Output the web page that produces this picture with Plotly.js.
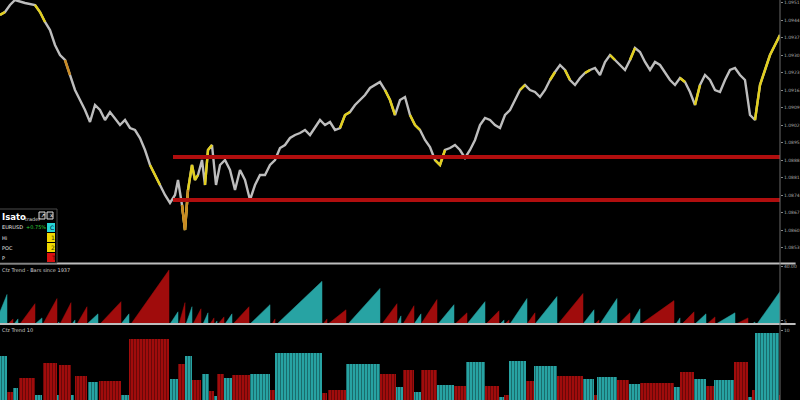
<!DOCTYPE html>
<html><head><meta charset="utf-8">
<script src="https://cdn.plot.ly/plotly-3.0.1.min.js"></script>
<style>html,body{margin:0;padding:0;background:#000;}#chart{width:800px;height:400px;}</style>
</head><body><div id="chart"></div>
<script>
// ---- price panel data ----
const barX = [0,5,10,15,25,35,40,45,50,55,60,65,70,75,80,85,90,95,100,105,110,115,120,125,130,135,140,145,150,155,160,165,170,175,178,182,185,188,192,195,198,202,205,208,212,216,220,225,230,235,240,245,250,255,260,265,270,275,280,285,290,295,300,305,310,315,320,325,330,335,340,345,350,355,360,365,370,375,380,385,390,395,400,405,410,415,420,425,430,435,440,445,450,455,460,465,470,475,480,485,490,495,500,505,510,515,520,525,530,535,540,545,550,555,560,565,570,575,580,585,590,595,600,605,610,615,620,625,630,635,640,645,650,655,660,665,670,675,680,685,690,695,700,705,710,715,720,725,730,735,740,745,750,755,760,765,770,775,780];
const closePrice = [1.0946,1.09472,1.0950,1.0952,1.09508,1.0950,1.09472,1.09432,1.0940,1.0934,1.0930,1.0928,1.0922,1.0916,1.0912,1.0908,1.09032,1.0910,1.0908,1.0904,1.09072,1.09048,1.0902,1.0904,1.09008,1.0900,1.08968,1.0892,1.0886,1.0882,1.0878,1.0874,1.08708,1.0874,1.0880,1.0870,1.0860,1.0876,1.0886,1.0880,1.0882,1.0888,1.0878,1.0892,1.0894,1.0878,1.0886,1.0888,1.0884,1.0876,1.0884,1.0880,1.0872,1.0878,1.0882,1.0882,1.0886,1.0888,1.08928,1.0894,1.08968,1.0898,1.08988,1.0900,1.0898,1.09008,1.0904,1.0902,1.09032,1.0900,1.09008,1.0906,1.09072,1.0910,1.0912,1.0914,1.09168,1.0918,1.09192,1.0916,1.0912,1.0906,1.0912,1.09132,1.0906,1.0902,1.0900,1.0896,1.08932,1.0888,1.0886,1.0892,1.08928,1.0894,1.0892,1.08888,1.0892,1.0896,1.0902,1.09048,1.0904,1.0902,1.09008,1.0906,1.0908,1.0912,1.0916,1.0918,1.0916,1.09152,1.09132,1.0916,1.0920,1.09232,1.0926,1.0924,1.0920,1.0918,1.09208,1.09228,1.0924,1.09248,1.0922,1.09272,1.0930,1.0928,1.0926,1.0924,1.0928,1.09328,1.09312,1.09272,1.0924,1.09272,1.0926,1.09232,1.0920,1.0918,1.09208,1.09192,1.09152,1.0910,1.0918,1.0922,1.0920,1.0916,1.09152,1.0920,1.0924,1.09248,1.0922,1.0920,1.0906,1.0904,1.0918,1.0924,1.0930,1.0934,1.0938];
const yellowStart = [0,35,150,180,205,340,385,410,435,520,550,565,585,610,630,680,695,755];
const yellowEnd   = [5,45,160,200,215,350,395,420,445,525,555,570,590,615,635,685,700,780];
const orangeStart = [65,182];
const orangeEnd   = [70,188];
const levelPrices = [1.08892, 1.0872];
const levelFrom = 173;
const priceTicks = [1.0951,1.0944,1.0937,1.0930,1.0923,1.0916,1.0909,1.0902,1.0895,1.0888,1.0881,1.0874,1.0867,1.0860,1.0853];

// ---- trend bars (ramps) ----
const trendStart = [-5,8,14,20,35,43,57,60,72,77,87,100,121,131,170,179,186,193,203,210,215,218,225,233,250,272,277,323,328,348,382,397,403,414,421,438,455,467,486,500,505,510,527,535,558,583,595,600,618,631,641,676,682,695,707,716,736,752,757];
const trendEnd   = [7,13,18,35,42,57,59,71,75,87,98,121,129,169,178,185,192,201,208,214,217,224,232,249,270,275,322,327,346,380,397,401,414,421,437,454,467,485,499,504,509,527,535,557,583,594,599,617,630,640,674,680,694,706,715,735,748,755,780];
const trendPeak  = [29,5,5,20,6,25,2,21,4,17,10,22,10,53,12,21,17,15,11,6,3,7,10,17,19,5,42,5,14,35,20,8,18,10,24,19,11,22,13,4,4,25,11,27,30,14,4,25,11,15,23,6,12,10,7,11,6,2,32];
const trendDir   = ['u','d','u','d','u','d','u','d','u','d','u','d','u','d','u','d','u','d','u','d','u','d','u','d','u','d','u','d','d','u','d','u','d','u','d','u','d','u','d','u','d','u','d','u','d','u','d','u','d','u','d','u','d','u','d','u','d','u','u'];

// ---- trend blocks ----
const blockStart  = [-3,7,13,19,35,43,57,59,71,75,88,99,121,129,170,178,185,192,202,209,214,217,224,232,250,270,275,322,328,346,380,396,403,414,421,437,454,466,485,499,504,509,526,534,557,583,594,597,617,629,640,674,680,694,706,714,734,748,752,755,779];
const blockEnd    = [7,13,18,35,42,57,59,71,74,87,98,121,129,169,178,185,192,201,209,214,217,224,232,250,270,275,322,327,346,380,396,403,414,421,437,454,466,485,499,504,509,526,534,557,583,594,597,617,629,640,674,680,694,706,714,734,748,752,755,779,782];
const blockHeight = [44,8,12,22,5,37,5,35,5,24,18,19,5,61,21,36,44,20,26,9,4,26,22,25,26,10,47,7,10,36,26,13,30,8,30,15,14,38,14,3,5,39,19,34,24,21,5,23,20,16,17,13,28,21,14,20,38,3,10,67,5];
const blockDir    = ['u','d','u','d','u','d','u','d','u','d','u','d','u','d','u','d','u','d','u','d','u','d','u','d','u','d','u','d','d','u','d','u','d','u','d','u','d','u','d','u','d','u','d','u','d','u','d','u','d','u','d','u','d','u','d','u','d','u','d','u','d'];

const TEAL = '#27a3a3', RED = '#a00c0c';
const W = 780, H = 400;
const px = v => v / W, py = v => 1 - v / H;

function inRanges(x, s, e) { for (let i = 0; i < s.length; i++) if (x >= s[i] && x <= e[i]) return true; return false; }

const traces = [];
traces.push({x: barX, y: closePrice, type: 'scatter', mode: 'lines', line: {color: '#bdbdbd', width: 2.4}, xaxis: 'x', yaxis: 'y', hoverinfo: 'skip'});
traces.push({x: barX, y: closePrice.map((v, i) => inRanges(barX[i], yellowStart, yellowEnd) ? v : null), type: 'scatter', mode: 'lines', line: {color: '#e2cf1c', width: 2.4}, connectgaps: false, xaxis: 'x', yaxis: 'y', hoverinfo: 'skip'});
traces.push({x: barX, y: closePrice.map((v, i) => inRanges(barX[i], orangeStart, orangeEnd) ? v : null), type: 'scatter', mode: 'lines', line: {color: '#c98a22', width: 2.4}, connectgaps: false, xaxis: 'x', yaxis: 'y', hoverinfo: 'skip'});
// support levels
levelPrices.forEach(p => traces.push({x: [levelFrom, W], y: [p, p], type: 'scatter', mode: 'lines', line: {color: '#b00e0e', width: 4}, xaxis: 'x', yaxis: 'y', hoverinfo: 'skip'}));

// ramps
['u', 'd'].forEach(d => {
  const xs = [], ys = [];
  trendStart.forEach((s, i) => { if (trendDir[i] !== d) return; xs.push(s, trendEnd[i], trendEnd[i], s, null); ys.push(0, trendPeak[i], 0, 0, null); });
  const c = d === 'u' ? TEAL : RED;
  traces.push({x: xs, y: ys, type: 'scatter', mode: 'lines', fill: 'toself', fillcolor: c, line: {color: c, width: 0.5}, xaxis: 'x', yaxis: 'y2', hoverinfo: 'skip'});
});

// blocks
['u', 'd'].forEach(d => {
  const xs = [], ys = [], ws = [];
  blockStart.forEach((s, i) => { if (blockDir[i] !== d) return; xs.push((s + blockEnd[i]) / 2); ws.push(blockEnd[i] - s); ys.push(blockHeight[i]); });
  const c = d === 'u' ? TEAL : RED;
  traces.push({x: xs, y: ys, width: ws, type: 'bar', marker: {color: c, line: {width: 0}, pattern: {shape: '|', size: 3, solidity: 0.25, fgcolor: 'rgba(0,0,0,0.45)', bgcolor: c}}, xaxis: 'x', yaxis: 'y3', hoverinfo: 'skip'});
});

const axFont = {family: 'DejaVu Sans', size: 4.5, color: '#a8a8a8'};
const yCommon = {side: 'right', showgrid: false, zeroline: false, showline: false, ticks: 'outside', ticklen: 2, tickcolor: '#888', tickfont: axFont, fixedrange: true, anchor: 'x'};

const shapes = [
  {type: 'line', xref: 'paper', yref: 'paper', x0: 0, x1: 1.02, y0: py(263.5), y1: py(263.5), line: {color: '#bdbdbd', width: 2}},
  {type: 'line', xref: 'paper', yref: 'paper', x0: 0, x1: 1.02, y0: py(324), y1: py(324), line: {color: '#bdbdbd', width: 2}},
  {type: 'line', xref: 'paper', yref: 'paper', x0: 1, x1: 1, y0: 0, y1: 1, line: {color: '#6a6a6a', width: 1}},
  // info box
  {type: 'rect', xref: 'paper', yref: 'paper', x0: px(-2), x1: px(57), y0: py(263), y1: py(209), fillcolor: '#000', line: {color: '#4a4a4a', width: 1}},
  {type: 'rect', xref: 'paper', yref: 'paper', x0: px(39), x1: px(45), y0: py(219), y1: py(212), fillcolor: '#111', line: {color: '#ddd', width: 1}},
  {type: 'rect', xref: 'paper', yref: 'paper', x0: px(47), x1: px(53), y0: py(219), y1: py(212), fillcolor: '#111', line: {color: '#ddd', width: 1}},
  {type: 'rect', xref: 'paper', yref: 'paper', x0: px(47), x1: px(55), y0: py(232), y1: py(223), fillcolor: '#27d6d6', line: {width: 0}},
  {type: 'rect', xref: 'paper', yref: 'paper', x0: px(47), x1: px(55), y0: py(242), y1: py(233), fillcolor: '#f0d800', line: {width: 0}},
  {type: 'rect', xref: 'paper', yref: 'paper', x0: px(47), x1: px(55), y0: py(252), y1: py(243), fillcolor: '#f0d800', line: {width: 0}},
  {type: 'rect', xref: 'paper', yref: 'paper', x0: px(47), x1: px(55), y0: py(262), y1: py(253), fillcolor: '#d81010', line: {width: 0}}
];

function ann(text, x, y, size, color, extra) {
  return Object.assign({text: text, xref: 'paper', yref: 'paper', x: px(x), y: py(y), xanchor: 'left', yanchor: 'middle', showarrow: false, borderpad: 0, font: {family: 'DejaVu Sans', size: size, color: color}}, extra || {});
}
const annotations = [
  ann('<b>Isato</b>', 0.5, 217, 8.5, '#fff'),
  ann('trader', 24, 218.5, 5, '#ddd'),
  ann('↗', 39.5, 215.5, 5, '#fff'),
  ann('x', 48.5, 215, 5, '#fff'),
  ann('EURUSD', 0.5, 227, 5, '#e8e8e8'),
  ann('+0.75%', 25, 227, 5, '#2fd13b'),
  ann('Hi', 0.5, 238, 5, '#e8e8e8'),
  ann('POC', 0.5, 248, 5, '#e8e8e8'),
  ann('P', 0.5, 258, 5, '#e8e8e8'),
  ann('C', 49, 227.5, 6, '#003'),
  ann('1', 49.5, 237.5, 6, '#330'),
  ann('2', 49.5, 247.5, 6, '#330'),
  ann('T', 49.5, 257.5, 6, '#300'),
  ann('Cfz Trend - Bars since 1937', 0.5, 270, 5, '#cfcfcf'),
  ann('Cfz Trend 10', 0.5, 330, 5, '#cfcfcf')
];

const layout = {
  width: 800, height: 400,
  paper_bgcolor: '#000', plot_bgcolor: '#000',
  margin: {l: 0, r: 20, t: 0, b: 0, pad: 0},
  showlegend: false, barmode: 'overlay', hovermode: false,
  xaxis: {range: [0, W], visible: false, fixedrange: true, anchor: 'y3'},
  yaxis: Object.assign({}, yCommon, {domain: [py(263), 1], range: [1.08468, 1.0952], tickvals: priceTicks, tickformat: '.4f'}),
  yaxis2: Object.assign({}, yCommon, {domain: [py(324), py(264)], range: [0, 59], tickvals: [57, 3], ticktext: ['40.00', '5']}),
  yaxis3: Object.assign({}, yCommon, {domain: [0, py(325)], range: [0, 75], tickvals: [70], ticktext: ['10']}),
  shapes: shapes,
  annotations: annotations
};

Plotly.newPlot('chart', traces, layout, {displayModeBar: false, staticPlot: true});
</script>
</body></html>
